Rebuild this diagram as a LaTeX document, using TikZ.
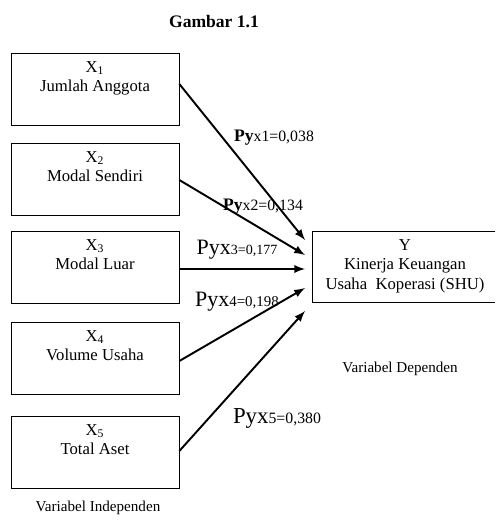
\documentclass[tikz,border=0pt]{standalone}
\usepackage{fontspec}
\setmainfont{Liberation Serif}
\usepackage{tikz}

\tikzset{
  varbox/.style={draw, minimum width=3.36cm, minimum height=1.44cm, align=center,
    font=\fontsize{9.5}{11}\selectfont, inner sep=1pt},
  depbox/.style={minimum width=3.64cm, minimum height=1.4cm, inner sep=0pt},
  deptext/.style={align=center, font=\fontsize{9.5}{11.2}\selectfont, inner sep=1pt},
  path/.style={->, >=latex, line width=1.1pt},
  coef/.style={font=\fontsize{9}{10}\selectfont, inner sep=0pt},
  note/.style={font=\fontsize{8.6}{10}\selectfont}
}

\begin{document}
\begin{tikzpicture}[x=0.02cm, y=-0.02cm]
  \useasboundingbox (0,0) rectangle (495,520);

  % Title
  \node[font=\bfseries\fontsize{10}{12}\selectfont] (title) at (214,22) {Gambar 1.1};

  % Independent variables
  \foreach \i/\y/\name in {1/89/Jumlah Anggota, 2/179/Modal Sendiri, 3/267/Modal Luar,
                           4/358/Volume Usaha, 5/452/Total Aset} {
    \node[varbox] (x\i) at (95,\y) {X\textsubscript{\i}\\\name\\\strut};
  }

  % Dependent variable (cut off at the right margin)
  \node[depbox] (ybox) at (404,267) {};
  \draw (ybox.north east) -- (ybox.north west) -- (ybox.south west) -- (ybox.south east);
  \node[deptext] (y) at (405,266) {Y\\Kinerja Keuangan\\Usaha \ Koperasi (SHU)};

  % Arrow tips
  \coordinate (t1) at (305,240);
  \coordinate (t2) at (305,255);
  \coordinate (t3) at (305,269);
  \coordinate (t4) at (305,288);
  \coordinate (t5) at (305,311);

  % Paths
  \foreach \i/\s in {1/0.1, 2/-0.02, 3/-0.04, 4/-0.06, 5/0.02} {
    \draw[path] ([yshift=\s cm]x\i.east) -- (t\i);
  }

  % Coefficients
  \node[coef] (p1) at (274,138) {{\bfseries\fontsize{10}{12}\selectfont Py}x1=0,038};
  \node[coef] (p2) at (263,207) {{\bfseries\fontsize{10}{12}\selectfont Py}x2=0,134};
  \node[coef] (p3) at (237,250) {{\fontsize{12.5}{14}\selectfont Pyx}{\fontsize{8}{10}\selectfont 3=0,177}};
  \node[coef] (p4) at (237,302) {{\fontsize{12.5}{14}\selectfont Pyx}{\fontsize{8.5}{10}\selectfont 4=0,198}};
  \node[coef] (p5) at (277,418) {{\fontsize{13}{14}\selectfont Pyx}{\fontsize{9}{10}\selectfont 5=0,380}};

  % Notes
  \node[note] (dep) at (400,369) {Variabel Dependen};
  \node[note] (indep) at (98,508) {Variabel Independen};
\end{tikzpicture}
\end{document}
